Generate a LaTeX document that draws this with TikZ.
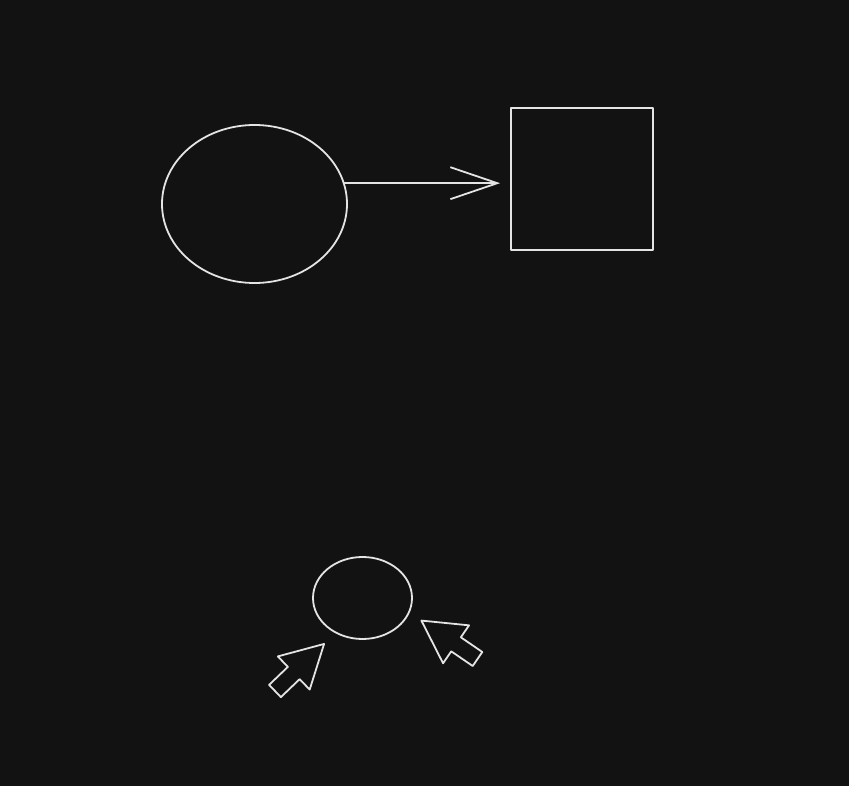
\documentclass[tikz,border=0pt]{standalone}
\usepackage{tikz}
\usetikzlibrary{arrows.meta,positioning,shapes.geometric}
\definecolor{canvas}{HTML}{121212}
\definecolor{chalk}{HTML}{E4E4E4}
\tikzset{
  pen/.style={draw=chalk, line width=1.8pt, line join=round, line cap=round},
  blob/.style={ellipse, pen, inner sep=0pt},
  box/.style={rectangle, pen, inner sep=0pt, minimum size=142pt},
  arrow/.style={pen, -{Straight Barb[length=47pt, width=32pt, line width=1.8pt]}},
  pics/blockarr/.style={code={
    \draw[pen] (0,-8.5) -- (26,-8.5) -- (26,-23) -- (68,0) -- (26,23) -- (26,8.5) -- (0,8.5) -- cycle;}},
}

\begin{document}
\begin{tikzpicture}[x=1pt, y=-1pt]
  % ----- Canvas -----
  \fill[canvas] (0,0) rectangle (849,786);

  % ----- Top row: ellipse to square -----
  \node[blob, minimum width=185pt, minimum height=158pt] (start) at (254.5,204) {};
  \node[box] (goal) at (582,179) {};
  \draw[arrow, shorten >=10pt] (start.13) -- (start.13 -| goal.west);

  % ----- Bottom: small circle and two pointers -----
  \node[blob, minimum width=99pt, minimum height=82pt] (spot) at (362.5,598) {};
  \pic[rotate=43.8] (leftptr) at (275,691) {blockarr};
  \pic[rotate=145.6] (rightptr) at (477.5,659) {blockarr};
\end{tikzpicture}
\end{document}
